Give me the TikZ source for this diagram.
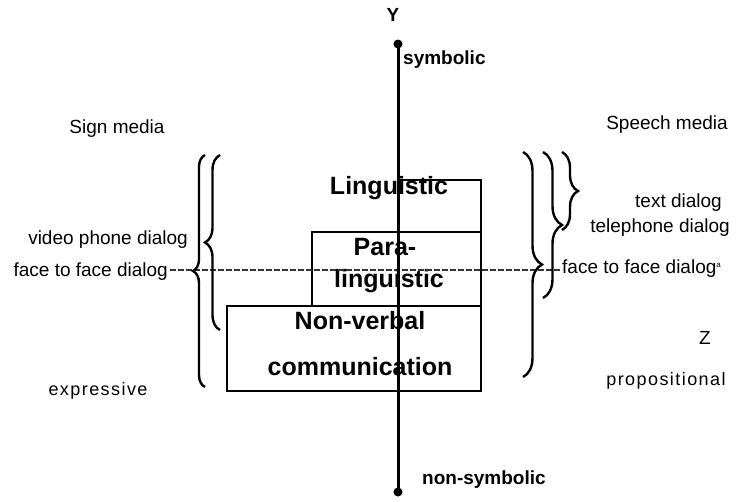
\documentclass[tikz,border=0pt]{standalone}
\usepackage{fontspec}
\setmainfont{Liberation Sans}
\newfontfamily\spacedfont[LetterSpace=8]{Liberation Sans}
\usetikzlibrary{decorations.pathreplacing}
\begin{document}
\begin{tikzpicture}[x=1pt,y=-1pt,
  lab/.style={inner sep=0pt, text height=0.72em, text depth=0.2em, font=\fontsize{19}{22}\selectfont},
  spacedlab/.style={inner sep=0pt, text height=0.72em, text depth=0.2em, font=\fontsize{18}{22}\spacedfont},
  boldlab/.style={inner sep=0pt, text height=0.72em, text depth=0.2em, font=\fontsize{19}{22}\selectfont\bfseries},
  boxlab/.style={inner sep=0pt, text height=0.72em, text depth=0.2em, font=\fontsize{25}{30}\selectfont\bfseries},
  box/.style={draw, line width=2.6pt, inner sep=0pt, outer sep=0pt, anchor=north west},
  brc/.style={decorate, decoration={brace, amplitude=#1}, line width=2.4pt},
  axisline/.style={line width=3pt},
  dot/.style={circle, fill, inner sep=0pt, minimum size=9pt},
  dashline/.style={line width=1.3pt, dash pattern=on 6pt off 2pt, black!80}
]
\useasboundingbox (0,0) rectangle (736,501);

% boxes
\node[box, minimum width=83pt, minimum height=52pt] (ling) at (398,180) {};
\node[box, minimum width=169pt, minimum height=74pt] (para) at (312,232) {};
\node[box, minimum width=254pt, minimum height=85pt] (nonv) at (227,306) {};

% box labels
\node[boxlab] (tling) at (389,192) {Linguistic};
\node[boxlab] (tpara1) at (385,253) {Para-};
\node[boxlab] (tpara2) at (389,285) {linguistic};
\node[boxlab] (tnonv1) at (360,327) {Non-verbal};
\node[boxlab] (tnonv2) at (360,373) {communication};

% side labels
\node[lab] (sign) at (117,131) {Sign media};
\node[lab] (speech) at (667,127) {Speech media};
\node[lab, anchor=east] (video) at (188,242) {video phone dialog};
\node[lab, anchor=east] (f2fl) at (168,274) {face to face dialog};
\node[spacedlab] (expr) at (98,393) {expressive};
\node[lab, anchor=east] (textd) at (722,205) {text dialog};
\node[lab, anchor=east] (tel) at (730,230) {telephone dialog};
\node[lab, anchor=west] (f2fr) at (562,271) {face to face dialog\textsuperscript{\fontsize{8}{8}\selectfont a}};
\node[lab] (zlab) at (705,342) {Z};
\node[spacedlab] (prop) at (666,383) {propositional};

% dashed line
\coordinate (dl) at (170,270);
\coordinate (dr) at (562,270);
\draw[dashline] (dl) -- (dr);

% axis
\node[dot] (ytop) at (398,44) {};
\node[dot] (ybot) at (398,492) {};
\draw[axisline] (ytop.center) -- (ybot.center);
\node[boldlab] (ylab) at (393,19) {Y};
\node[boldlab, anchor=west] (symb) at (403,62) {symbolic};
\node[boldlab, anchor=west] (nsymb) at (422,482) {non-symbolic};

% left braces
\coordinate (lob) at (205,387);
\coordinate (lot) at (205,155);
\draw[brc=12pt] (lob) -- (lot);
\coordinate (lib) at (220,330);
\coordinate (lit) at (220,155);
\draw[brc=15pt] (lib) -- (lit);

% right braces
\coordinate (rot) at (523,152);
\coordinate (rob) at (523,377);
\draw[brc=19pt] (rot) -- (rob);
\coordinate (rmt) at (543,152);
\coordinate (rmb) at (543,298);
\draw[brc=19pt] (rmt) -- (rmb);
\coordinate (rst) at (562,152);
\coordinate (rsb) at (562,230);
\draw[brc=16pt] (rst) -- (rsb);
\end{tikzpicture}
\end{document}
